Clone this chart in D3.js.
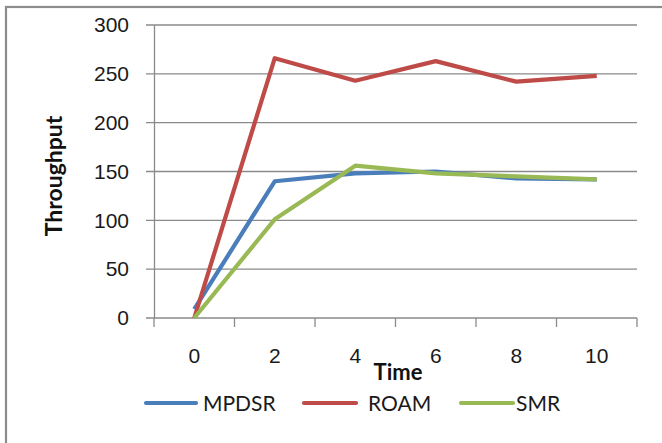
<!DOCTYPE html>
<html>
<head>
<meta charset="utf-8">
<script src="https://cdn.jsdelivr.net/npm/d3@7/dist/d3.min.js"></script>
<style>
  html, body { margin: 0; padding: 0; background: #fff; }
  svg { display: block; font-family: Lato, "Open Sans", sans-serif; }
</style>
</head>
<body>
<svg id="chart" width="662" height="443"></svg>
<script>
// Throughput over time for three routing protocols
const times = ["0", "2", "4", "6", "8", "10"];
const mpdsr = [9, 140, 148, 150, 143, 142];
const roam  = [0, 266, 243, 263, 242, 248];
const smr   = [0, 101, 156, 148, 145, 142];
const yTicks = [0, 50, 100, 150, 200, 250, 300];

const series = [
  { name: "MPDSR", values: mpdsr, color: "#4A7EBB" },
  { name: "ROAM",  values: roam,  color: "#BE4B48" },
  { name: "SMR",   values: smr,   color: "#98B954" }
];

const svg = d3.select("#chart");
const plot = { left: 154, right: 637, top: 25, bottom: 318 };

// Outer chart frame (only top and left edges fall inside the view)
svg.append("rect")
  .attr("x", 6).attr("y", 7)
  .attr("width", 700).attr("height", 500)
  .attr("fill", "none")
  .attr("stroke", "#8c8c8c")
  .attr("stroke-width", 2.2);

const x = d3.scaleBand().domain(times).range([plot.left, plot.right]);
const y = d3.scaleLinear().domain([0, 300]).range([plot.bottom, plot.top]);

// Horizontal gridlines
svg.append("g")
  .selectAll("line")
  .data(yTicks)
  .join("line")
  .attr("x1", plot.left - 8).attr("x2", plot.right)
  .attr("y1", d => y(d)).attr("y2", d => y(d))
  .attr("stroke", "#8a8a8a")
  .attr("stroke-width", 1.3);

// Y axis
const yAxis = svg.append("g")
  .attr("transform", `translate(${plot.left},0)`)
  .call(d3.axisLeft(y).tickValues(yTicks).tickSize(0).tickPadding(25));
yAxis.select(".domain").attr("stroke", "#8a8a8a").attr("stroke-width", 1.3);
yAxis.selectAll("text")
  .attr("font-size", 21)
  .attr("fill", "#1a1a1a");

// X axis with ticks at category boundaries
const xAxis = svg.append("g")
  .attr("transform", `translate(0,${plot.bottom})`)
  .call(d3.axisBottom(x).tickSize(0).tickPadding(30));
xAxis.select(".domain").remove();
xAxis.selectAll("text")
  .attr("font-size", 21)
  .attr("fill", "#1a1a1a");

const boundaries = times.map(t => x(t)).concat([x(times[times.length - 1]) + x.bandwidth()]);
svg.append("g")
  .selectAll("line")
  .data(boundaries)
  .join("line")
  .attr("x1", d => d).attr("x2", d => d)
  .attr("y1", plot.bottom).attr("y2", plot.bottom + 9)
  .attr("stroke", "#8a8a8a")
  .attr("stroke-width", 1.3);

// Series lines
const line = d3.line()
  .x((d, i) => x(times[i]) + x.bandwidth() / 2)
  .y(d => y(d));

svg.append("g")
  .selectAll("path")
  .data(series)
  .join("path")
  .attr("d", d => line(d.values))
  .attr("fill", "none")
  .attr("stroke", d => d.color)
  .attr("stroke-width", 4.2)
  .attr("stroke-linejoin", "round");

// Axis titles
svg.append("text")
  .attr("x", 398).attr("y", 380)
  .attr("text-anchor", "middle")
  .attr("font-size", 22)
  .attr("font-weight", "bold")
  .attr("fill", "#111")
  .text("Time");

svg.append("text")
  .attr("transform", "translate(62,176) rotate(-90)")
  .attr("text-anchor", "middle")
  .attr("font-size", 23)
  .attr("font-weight", "bold")
  .attr("fill", "#111")
  .text("Throughput");

// Legend
const legendItems = [
  { s: series[0], x1: 146, x2: 196, tx: 203 },
  { s: series[1], x1: 304, x2: 356, tx: 368 },
  { s: series[2], x1: 461, x2: 513, tx: 516 }
];
const lg = svg.append("g");
lg.selectAll("line")
  .data(legendItems)
  .join("line")
  .attr("x1", d => d.x1).attr("x2", d => d.x2)
  .attr("y1", 403).attr("y2", 403)
  .attr("stroke", d => d.s.color)
  .attr("stroke-width", 4.2)
  .attr("stroke-linecap", "round");
lg.selectAll("text")
  .data(legendItems)
  .join("text")
  .attr("x", d => d.tx).attr("y", 411)
  .attr("font-size", 21)
  .attr("fill", "#1a1a1a")
  .text(d => d.s.name);
</script>
</body>
</html>
